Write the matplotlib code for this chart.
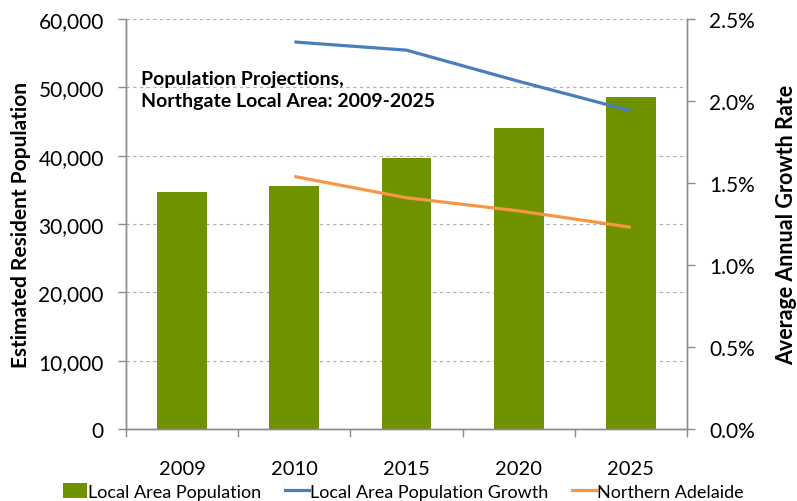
import matplotlib.pyplot as plt
import matplotlib.ticker as mticker
from matplotlib.patches import Patch
from matplotlib.lines import Line2D

plt.rcParams['font.family'] = ['Lato', 'DejaVu Sans']

years = ["2009", "2010", "2015", "2020", "2025"]
population = [34700, 35550, 39650, 44050, 48600]
local_growth = [None, 2.36, 2.31, 2.12, 1.94]
northern_adelaide = [None, 1.54, 1.41, 1.33, 1.23]

green = "#6e9200"
blue = "#4a7ebb"
orange = "#f79646"
grey = "#8c8c8c"

fig = plt.figure(figsize=(7.97, 5.02), dpi=100)
ax = fig.add_axes([126 / 797, 1 - 430 / 502, 561 / 797, 410 / 502])
ax2 = ax.twinx()

x = list(range(len(years)))
ax.bar(x, population, width=0.445, color=green, zorder=2)

line_x = x[1:]
ax2.plot(line_x, local_growth[1:], color=blue, lw=2.3, solid_capstyle="butt")
ax2.plot(line_x, northern_adelaide[1:], color=orange, lw=2.3, solid_capstyle="butt")

ax.set_xlim(-0.5, len(years) - 0.5)
ax.set_ylim(0, 60000)
ax2.set_ylim(0, 2.5)

ax.set_yticks(range(0, 60001, 10000))
ax.yaxis.set_major_formatter(mticker.FuncFormatter(lambda v, p: f"{int(v):,}"))
ax.grid(axis="y", color="#b0b0b0", ls=(0, (3, 3)), lw=0.8, zorder=0)
ax.set_axisbelow(True)

ax2.set_yticks([0, 0.5, 1.0, 1.5, 2.0, 2.5])
ax2.yaxis.set_major_formatter(mticker.FuncFormatter(lambda v, p: f"{v:.1f}%"))

ax.set_xticks(x)
ax.set_xticklabels(years)
ax.set_xticks([i - 0.5 for i in range(len(years) + 1)], minor=True)
ax.tick_params(axis="x", which="major", length=0, pad=22, labelsize=14.5)
ax.tick_params(axis="x", which="minor", length=6, color=grey, width=1)
ax.tick_params(axis="y", length=6, color=grey, width=1, labelsize=15, pad=10)
ax2.tick_params(axis="y", length=6, color=grey, width=1, labelsize=15, pad=10)

for a in (ax, ax2):
    a.spines["top"].set_visible(False)
    for s in ("left", "right", "bottom"):
        a.spines[s].set_color(grey)
        a.spines[s].set_linewidth(1)

ax.set_ylabel("Estimated Resident Population", fontsize=15, fontweight="bold", labelpad=5)
ax2.set_ylabel("Average Annual Growth Rate", fontsize=15.5, fontweight="bold", labelpad=15)

ax.text(0.027, 0.876, "Population Projections,\nNorthgate Local Area: 2009-2025",
        transform=ax.transAxes, fontsize=14, fontweight="bold", va="top",
        linespacing=1.4)

handles = [
    Patch(facecolor=green, edgecolor="none"),
    Line2D([], [], color=blue, lw=2.3),
    Line2D([], [], color=orange, lw=2.3),
]
labels = ["Local Area Population", "Local Area Population Growth", "Northern Adelaide"]
fig.legend(handles, labels, loc="lower center", bbox_to_anchor=(0.506, -0.03), ncol=3,
           frameon=False, fontsize=13, handlelength=1.35, handletextpad=0.05,
           columnspacing=1.3, handleheight=0.9)

fig.savefig("out.png", dpi=100)
